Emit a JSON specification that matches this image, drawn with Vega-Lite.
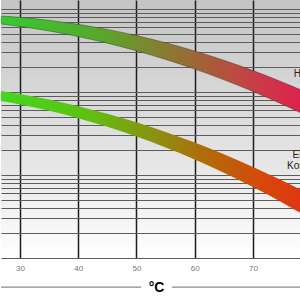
{
  "$schema": "https://vega.github.io/schema/vega-lite/v6.json",
  "width": 300,
  "height": 258,
  "padding": 0,
  "background": "#ffffff",
  "config": {
    "view": {
      "stroke": null,
      "fill": {"gradient": "linear", "x1": 0, "y1": 0, "x2": 0, "y2": 1,
        "stops": [{"offset": 0, "color": "#c4c4c4"}, {"offset": 0.6, "color": "#e4e4e4"}, {"offset": 1, "color": "#ffffff"}]}
    },
    "font": "Liberation Sans"
  },
  "datasets": {
    "upper": [
      {"t": 26, "hi": 829, "lo": 668.6},
      {"t": 27, "hi": 821, "lo": 656.3},
      {"t": 30, "hi": 793, "lo": 616.6},
      {"t": 35, "hi": 730, "lo": 543.0},
      {"t": 40, "hi": 653, "lo": 465.0},
      {"t": 45, "hi": 567.5, "lo": 387.2},
      {"t": 50, "hi": 478.8, "lo": 313.4},
      {"t": 55, "hi": 392.3, "lo": 246.6},
      {"t": 60, "hi": 312.1, "lo": 188.6},
      {"t": 65, "hi": 241.2, "lo": 140.2},
      {"t": 70, "hi": 181.0, "lo": 101.4},
      {"t": 75, "hi": 131.9, "lo": 71.2},
      {"t": 78, "hi": 107.6, "lo": 56.86},
      {"t": 79, "hi": 100.3, "lo": 52.66}
    ],
    "lower": [
      {"t": 26, "hi": 104.6, "lo": 79.5},
      {"t": 27, "hi": 102.2, "lo": 77.35},
      {"t": 30, "hi": 94.42, "lo": 70.74},
      {"t": 35, "hi": 80.97, "lo": 59.42},
      {"t": 40, "hi": 67.5, "lo": 48.36},
      {"t": 45, "hi": 54.7, "lo": 38.10},
      {"t": 50, "hi": 43.09, "lo": 29.08},
      {"t": 55, "hi": 33.01, "lo": 21.49},
      {"t": 60, "hi": 24.58, "lo": 15.39},
      {"t": 65, "hi": 17.79, "lo": 10.67},
      {"t": 70, "hi": 12.52, "lo": 7.164},
      {"t": 75, "hi": 8.564, "lo": 4.659},
      {"t": 78, "hi": 6.727, "lo": 3.544},
      {"t": 79, "hi": 6.195, "lo": 3.228}
    ],
    "labels": [
      {"label": "Hochtemperatur", "t": 77.0, "v": 164.8},
      {"label": "Elektrolyt-", "t": 76.8, "v": 17.18},
      {"label": "Kondensatoren", "t": 75.85, "v": 12.66}
    ],
    "arrows": [
      {"a": 26.75, "b": 50.8, "v": 0.447},
      {"a": 56.1, "b": 78.2, "v": 0.447}
    ]
  },
  "encoding": {
    "x": {
      "field": "t", "type": "quantitative",
      "scale": {"domain": [26.74, 78.24], "nice": false, "zero": false},
      "axis": {
        "values": [30, 40, 50, 60, 70],
        "grid": true, "gridColor": "#1e1e1e", "gridWidth": 1.5,
        "domain": false, "ticks": false,
        "labelFontSize": 8, "labelColor": "#777777", "labelPadding": 6,
        "title": "°C", "titleFontSize": 14, "titleFontWeight": "bold", "titleColor": "#000000",
        "titleX": 155, "titleY": 22, "titleBaseline": "top", "titleAlign": "center"
      }
    },
    "y": {
      "field": "hi", "type": "quantitative",
      "scale": {"type": "log", "domain": [1, 1283], "nice": false},
      "axis": {
        "values": [1,2,3,4,5,6,7,8,9,10,20,30,40,50,60,70,80,90,100,200,300,400,500,600,700,800,900,1000],
        "grid": true, "gridColor": "#5c5c5c", "gridWidth": 1,
        "labels": false, "ticks": false, "domain": false, "title": null
      }
    }
  },
  "layer": [
    {
      "data": {"name": "upper"},
      "mark": {"type": "area", "interpolate": "monotone", "clip": true,
        "stroke": "#333333", "strokeWidth": 0.6, "strokeOpacity": 0.7,
        "color": {"gradient": "linear", "x1": 0, "y1": 0, "x2": 1, "y2": 0,
          "stops": [{"offset": 0, "color": "#33cc30"}, {"offset": 0.35, "color": "#5aa62a"}, {"offset": 0.55, "color": "#8a7a30"}, {"offset": 0.7, "color": "#aa5a3a"}, {"offset": 0.85, "color": "#cc3a48"}, {"offset": 1, "color": "#e01e4e"}]}},
      "encoding": {"y2": {"field": "lo"}}
    },
    {
      "data": {"name": "lower"},
      "mark": {"type": "area", "interpolate": "monotone", "clip": true,
        "color": {"gradient": "linear", "x1": 0, "y1": 0, "x2": 1, "y2": 0,
          "stops": [{"offset": 0, "color": "#40d81e"}, {"offset": 0.3, "color": "#5fc012"}, {"offset": 0.5, "color": "#879410"}, {"offset": 0.67, "color": "#b06c0a"}, {"offset": 0.85, "color": "#d44a0a"}, {"offset": 1, "color": "#e03412"}]}},
      "encoding": {"y2": {"field": "lo"}}
    },
    {
      "data": {"name": "labels"},
      "mark": {"type": "text", "align": "left", "baseline": "middle", "fontSize": 10, "color": "#222222", "clip": true},
      "encoding": {"y": {"field": "v", "type": "quantitative"}, "text": {"field": "label"}}
    },
    {
      "data": {"name": "arrows"},
      "mark": {"type": "rule", "color": "#8a8a8a", "strokeWidth": 1.2},
      "encoding": {
        "x": {"field": "a", "type": "quantitative"},
        "x2": {"field": "b"},
        "y": {"field": "v", "type": "quantitative"}
      }
    }
  ]
}
